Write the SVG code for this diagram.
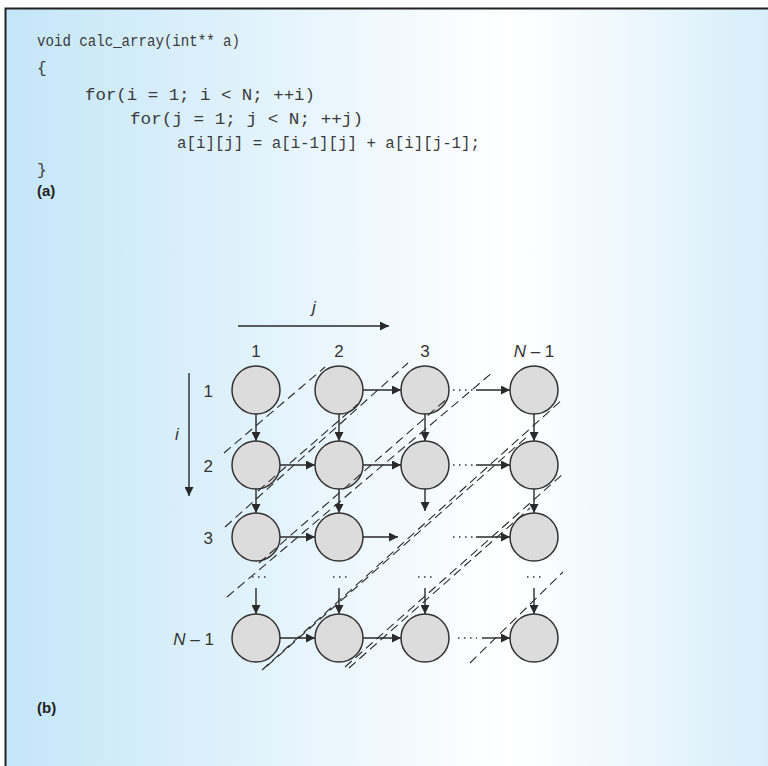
<svg xmlns="http://www.w3.org/2000/svg" width="768" height="766" viewBox="0 0 768 766">
<defs>
<linearGradient id="bg" x1="0" y1="0" x2="1" y2="0">
<stop offset="0" stop-color="#c4e6f8"/>
<stop offset="0.66" stop-color="#ffffff"/>
<stop offset="1" stop-color="#d7eefa"/>
</linearGradient>
<marker id="ah" viewBox="0 0 10 10" refX="10" refY="5" markerWidth="10" markerHeight="9" markerUnits="userSpaceOnUse" orient="auto">
<path d="M0,0 L10,5 L0,10 Z" fill="#2a2a2a"/>
</marker>
<style>
.code{font-family:"Liberation Mono","Courier New",monospace;font-size:16px;fill:#3a3a3a}
.lab{font-family:"Liberation Sans",Arial,sans-serif;font-size:17px;fill:#333}
.it{font-style:italic}
.bold{font-family:"Liberation Sans",Arial,sans-serif;font-size:15px;font-weight:bold;fill:#222}
.node{fill:#dcdcdc;stroke:#333;stroke-width:1.5}
.arr{stroke:#2a2a2a;stroke-width:1.4;fill:none;marker-end:url(#ah)}
.dots{stroke:#333;stroke-width:1.3;fill:none;stroke-dasharray:1.5 4.5}
.dash{stroke:#2a2a2a;stroke-width:1.1;fill:none;stroke-dasharray:9 5}
</style>
</defs>
<rect x="6" y="9" width="762" height="757" fill="url(#bg)"/>
<path d="M5.5,766 V8.5 H768" fill="none" stroke="#222" stroke-width="2"/>

<g id="code">
<text class="code" x="37" y="46" textLength="203" lengthAdjust="spacingAndGlyphs">void calc_array(int** a)</text>
<text class="code" x="37" y="73">{</text>
<text class="code" x="85" y="100" textLength="230" lengthAdjust="spacingAndGlyphs">for(i = 1; i &lt; N; ++i)</text>
<text class="code" x="130" y="124" textLength="233" lengthAdjust="spacingAndGlyphs">for(j = 1; j &lt; N; ++j)</text>
<text class="code" x="177" y="148" textLength="303" lengthAdjust="spacingAndGlyphs">a[i][j] = a[i-1][j] + a[i][j-1];</text>
<text class="code" x="37" y="175">}</text>
<text class="bold" x="37" y="196">(a)</text>
<text class="bold" x="37" y="713">(b)</text>
</g>

<g id="axes">
<line class="arr" x1="238" y1="326" x2="389" y2="326"/>
<text class="lab it" x="314" y="313" text-anchor="middle">j</text>
<line class="arr" x1="189" y1="373" x2="189" y2="496"/>
<text class="lab it" x="177" y="440" text-anchor="middle">i</text>
<text class="lab" x="256" y="357" text-anchor="middle">1</text>
<text class="lab" x="339" y="357" text-anchor="middle">2</text>
<text class="lab" x="425" y="357" text-anchor="middle">3</text>
<text class="lab" x="534" y="357" text-anchor="middle"><tspan class="it">N</tspan> – 1</text>
<text class="lab" x="213" y="397" text-anchor="end">1</text>
<text class="lab" x="213" y="472" text-anchor="end">2</text>
<text class="lab" x="213" y="544" text-anchor="end">3</text>
<text class="lab" x="214" y="645" text-anchor="end"><tspan class="it">N</tspan> – 1</text>
</g>

<g id="n11"><circle class="node" cx="256" cy="390" r="24"/></g>
<g id="n12"><circle class="node" cx="339" cy="390" r="24"/></g>
<g id="n13"><circle class="node" cx="425" cy="390" r="24"/></g>
<g id="n1N"><circle class="node" cx="534" cy="390" r="24"/></g>
<g id="n21"><circle class="node" cx="256" cy="465" r="24"/></g>
<g id="n22"><circle class="node" cx="339" cy="465" r="24"/></g>
<g id="n23"><circle class="node" cx="425" cy="465" r="24"/></g>
<g id="n2N"><circle class="node" cx="534" cy="465" r="24"/></g>
<g id="n31"><circle class="node" cx="256" cy="537" r="24"/></g>
<g id="n32"><circle class="node" cx="339" cy="537" r="24"/></g>
<g id="n3N"><circle class="node" cx="534" cy="537" r="24"/></g>
<g id="nN1"><circle class="node" cx="256" cy="638" r="24"/></g>
<g id="nN2"><circle class="node" cx="339" cy="638" r="24"/></g>
<g id="nN3"><circle class="node" cx="425" cy="638" r="24"/></g>
<g id="nNN"><circle class="node" cx="534" cy="638" r="24"/></g>

<g id="connectors">
<!-- horizontal -->
<line class="arr" x1="363" y1="390" x2="401" y2="390"/>
<line class="dots" x1="453" y1="390" x2="474" y2="390"/>
<line class="arr" x1="476" y1="390" x2="510" y2="390"/>
<line class="arr" x1="280" y1="465" x2="315" y2="465"/>
<line class="arr" x1="363" y1="465" x2="401" y2="465"/>
<line class="dots" x1="453" y1="465" x2="474" y2="465"/>
<line class="arr" x1="476" y1="465" x2="510" y2="465"/>
<line class="arr" x1="280" y1="537" x2="315" y2="537"/>
<line class="arr" x1="363" y1="537" x2="398" y2="537"/>
<line class="dots" x1="453" y1="537" x2="474" y2="537"/>
<line class="arr" x1="476" y1="537" x2="510" y2="537"/>
<line class="arr" x1="280" y1="638" x2="315" y2="638"/>
<line class="arr" x1="363" y1="638" x2="401" y2="638"/>
<line class="dots" x1="458" y1="638" x2="477" y2="638"/>
<line class="arr" x1="482" y1="638" x2="510" y2="638"/>
<!-- vertical -->
<line class="arr" x1="256" y1="414" x2="256" y2="441"/>
<line class="arr" x1="339" y1="414" x2="339" y2="441"/>
<line class="arr" x1="425" y1="414" x2="425" y2="441"/>
<line class="arr" x1="534" y1="414" x2="534" y2="441"/>
<line class="arr" x1="256" y1="489" x2="256" y2="513"/>
<line class="arr" x1="339" y1="489" x2="339" y2="513"/>
<line class="arr" x1="425" y1="489" x2="425" y2="511"/>
<line class="arr" x1="534" y1="489" x2="534" y2="513"/>
<line class="dots" x1="252" y1="577" x2="270" y2="577"/>
<line class="dots" x1="333" y1="577" x2="351" y2="577"/>
<line class="dots" x1="418" y1="577" x2="436" y2="577"/>
<line class="dots" x1="527" y1="577" x2="545" y2="577"/>
<line class="arr" x1="256" y1="588" x2="256" y2="614"/>
<line class="arr" x1="339" y1="588" x2="339" y2="614"/>
<line class="arr" x1="425" y1="588" x2="425" y2="614"/>
<line class="arr" x1="534" y1="588" x2="534" y2="614"/>
<!-- wavefront boundaries -->
<line class="dash" x1="224" y1="453" x2="325" y2="367"/>
<line class="dash" x1="225" y1="527" x2="408" y2="363"/>
<line class="dash" x1="258" y1="491" x2="358" y2="404"/>
<line class="dash" x1="227" y1="597" x2="493" y2="372"/>
<line class="dash" x1="259" y1="563" x2="449" y2="397"/>
<line class="dash" x1="262" y1="670" x2="563" y2="399"/>
<line class="dash" x1="267" y1="666" x2="529" y2="435"/>
<line class="dash" x1="345" y1="667" x2="564" y2="473"/>
<line class="dash" x1="349" y1="668" x2="530" y2="508"/>
<line class="dash" x1="470" y1="663" x2="563" y2="572"/>
</g>
</svg>
